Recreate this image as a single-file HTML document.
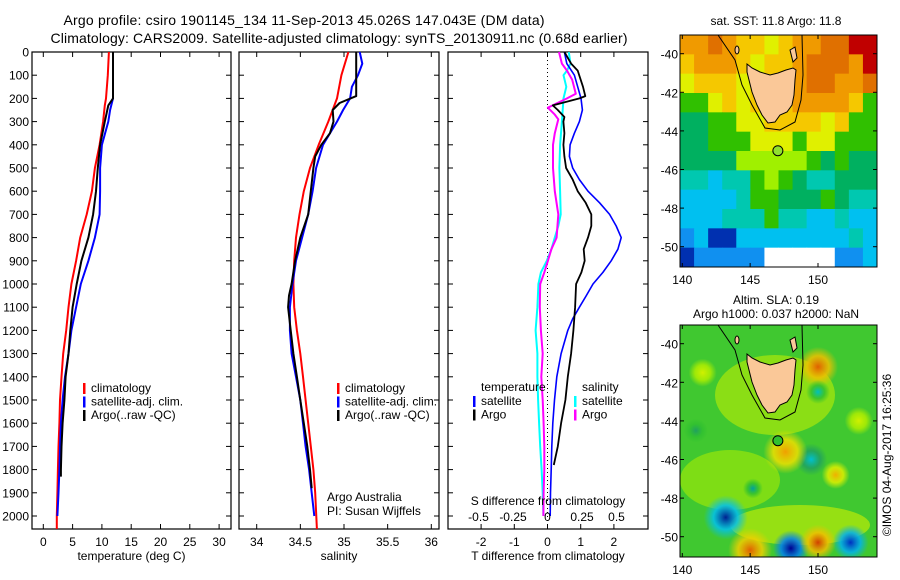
<!DOCTYPE html>
<html><head><meta charset="utf-8"><style>
body{margin:0;background:#fff}
svg{display:block;font-family:"Liberation Sans",sans-serif}
</style></head><body>
<svg id="fig" width="900" height="580" viewBox="0 0 900 580" xmlns="http://www.w3.org/2000/svg">
<rect width="900" height="580" fill="#fff"/>
<text x="304" y="25" font-size="14" text-anchor="middle" textLength="481">Argo profile: csiro 1901145_134 11-Sep-2013 45.026S 147.043E (DM data)</text>
<text x="339" y="43" font-size="14" text-anchor="middle" textLength="577">Climatology: CARS2009. Satellite-adjusted climatology: synTS_20130911.nc (0.68d earlier)</text>
<g id="p1"></g>
<g id="p2"></g>
<g id="p3"></g>
<g id="m1"></g>
<g id="m2"></g>
</svg>
<script>
const depthT = [0,100,200,230,300,400,500,600,700,800,900,1000,1100,1200,1300,1400,1500,1600,1700,1800,1900,2000,2056];
const tempClim = [11.2,11.0,10.7,10.5,10.2,9.6,8.8,8.3,7.4,6.3,5.6,4.8,4.3,3.9,3.4,3.1,2.85,2.75,2.6,2.5,2.4,2.3,2.3];
const depthTS = [0,100,200,250,300,400,500,600,700,800,900,1000,1100,1200,1300,1400,1500,1600,1700,1800,1900,2000];
const tempSat = [11.9,11.9,11.9,11.4,11.1,10.0,9.7,9.7,9.6,8.8,7.7,6.4,5.6,4.8,4.3,3.7,3.3,3.0,2.85,2.75,2.6,2.4];
const depthTA = [0,100,200,230,300,400,500,600,700,800,900,1000,1100,1200,1300,1400,1500,1600,1700,1800,1830];
const tempArgo = [11.9,11.9,11.9,11.1,10.5,9.7,9.3,9.0,8.5,7.7,6.5,5.7,5.0,4.6,4.3,3.8,3.6,3.3,3.1,3.0,3.0];
const depthS = [0,100,200,300,400,500,600,700,800,900,1000,1100,1200,1300,1400,1500,1600,1700,1800,1900,2056];
const salClim = [35.05,34.97,34.92,34.82,34.71,34.61,34.54,34.49,34.45,34.43,34.42,34.43,34.46,34.50,34.53,34.56,34.59,34.62,34.65,34.67,34.69];
const depthSS = [0,50,100,150,200,250,300,400,500,600,700,800,900,1000,1100,1200,1300,1400,1500,1600,1700,1800,1900,2000];
const salSat = [35.18,35.21,35.16,35.09,35.07,34.99,34.92,34.76,34.68,34.64,34.59,34.52,34.45,34.41,34.38,34.38,34.40,34.45,34.50,34.53,34.56,34.60,34.63,34.66];
const depthSA = [0,190,220,250,300,350,400,450,500,600,700,800,900,1000,1050,1100,1200,1300,1400,1500,1600,1700,1800,1880];
const salArgo = [35.14,35.14,34.95,34.87,34.88,34.84,34.74,34.67,34.65,34.62,34.59,34.50,34.44,34.40,34.37,34.36,34.39,34.42,34.46,34.50,34.54,34.58,34.61,34.63];
const depthD = [0,50,100,150,200,250,300,350,400,450,500,550,600,650,700,750,800,850,900,950,1000,1050,1100,1150,1200,1300,1400,1500,1600,1700,1800,1900,2000];
const dTsat = [0.51,0.58,0.81,0.91,1.01,1.05,0.96,0.81,0.68,0.66,0.76,0.96,1.22,1.57,1.87,2.07,2.22,2.12,1.92,1.67,1.37,1.17,0.96,0.76,0.61,0.41,0.28,0.21,0.16,0.13,0.11,0.09,0.08];
const depthDA = [0,50,80,150,190,200,230,250,280,300,350,400,450,500,550,600,650,700,750,800,850,900,950,1000,1100,1200,1300,1400,1500,1600,1700,1780];
const dTargo = [0.51,0.71,0.91,1.07,1.14,0.96,0.16,0.31,0.51,0.48,0.51,0.48,0.51,0.56,0.76,0.91,1.15,1.32,1.32,1.22,1.09,1.12,1.02,0.86,0.83,0.78,0.71,0.61,0.54,0.41,0.31,0.19];
const depthDS = [0,50,80,100,150,200,300,400,500,600,700,750,800,850,900,950,1000,1100,1200,1300,1400,1500,1600,1700,1800,1900,2000];
const dSsat = [0.154,0.167,0.141,0.116,0.136,0.116,0.104,0.091,0.086,0.091,0.096,0.078,0.053,0.028,-0.005,-0.048,-0.066,-0.073,-0.086,-0.073,-0.073,-0.068,-0.061,-0.053,-0.043,-0.035,-0.03];
const depthDSA = [0,50,80,120,180,200,240,270,290,350,400,500,600,700,800,850,900,950,1000,1100,1200,1300,1400,1500,1600,1700,1800,1900,2000];
const dSargo = [0.083,0.104,0.141,0.179,0.205,0.141,0.003,0.053,0.078,0.053,0.04,0.04,0.053,0.078,0.066,0.028,0.003,-0.023,-0.053,-0.056,-0.048,-0.035,-0.045,-0.035,-0.028,-0.023,-0.023,-0.028,-0.03];
const depthTicks = [0,100,200,300,400,500,600,700,800,900,1000,1100,1200,1300,1400,1500,1600,1700,1800,1900,2000];
const tTicks = [0,5,10,15,20,25,30];
const sTicks = [34,34.5,35,35.5,36];
const dTTicks = [-2,-1,0,1,2];
const dSTicks = [-0.5,-0.25,0,0.25,0.5];
const dSTickLabels = ['-0.5','-0.25','0','0.25','0.5'];
const latTicks = [-40,-42,-44,-46,-48,-50];
const lonTicks = [140,145,150];

const NS='http://www.w3.org/2000/svg';
function mk(parent,tag,attrs,text){const e=document.createElementNS(NS,tag);for(const k in attrs)e.setAttribute(k,attrs[k]);if(text!==undefined)e.textContent=text;parent.appendChild(e);return e;}
const Y0=52, Y1=529;
const yD = d => 52 + d*0.232;
const xT = v => 43.3 + v*5.86;
const xS = v => 256.7 + (v-34)*87.3;
const xDT = v => 547.5 + v*33.2;
const xDS = v => 547.5 + v*138;

function frame(g,x0,x1,xTicksArr,xf,labels,title,showY){
  const r=mk(g,'rect',{x:x0,y:Y0,width:x1-x0,height:Y1-Y0,fill:'none',stroke:'#000','stroke-width':1.2});
  
  
  depthTicks.forEach(d=>{
    const y=yD(d);
    mk(g,'line',{x1:x0,x2:x0+5,y1:y,y2:y,stroke:'#000'});
    mk(g,'line',{x1:x1-5,x2:x1,y1:y,y2:y,stroke:'#000'});
    if(showY){const t=mk(g,'text',{x:x0-3,y:y+4.5,'font-size':12,'text-anchor':'end'},String(d));
      
      }
  });
  xTicksArr.forEach((v,i)=>{
    const x=xf(v);
    mk(g,'line',{x1:x,x2:x,y1:Y0,y2:Y0+5,stroke:'#000'});
    mk(g,'line',{x1:x,x2:x,y1:Y1-5,y2:Y1,stroke:'#000'});
    const t=mk(g,'text',{x:x,y:546,'font-size':12,'text-anchor':'middle'},labels?labels[i]:String(v));
    
    
  });
  const tt=mk(g,'text',{x:(x0+x1)/2,y:560,'font-size':12,'text-anchor':'middle'},title);
  
  
}
function series(g,xs,ds,xf,color,w,name){
  const pts=xs.map((v,i)=>xf(v).toFixed(1)+','+yD(ds[i]).toFixed(1)).join(' ');
  const p=mk(g,'polyline',{points:pts,fill:'none',stroke:color,'stroke-width':w,'stroke-linejoin':'round'});
  
  
}
function legend(g,x,y,items){
  items.forEach((it,i)=>{
    mk(g,'rect',{x:x,y:y+i*13.5-9,width:2.5,height:11,fill:it[1]});
    const t=mk(g,'text',{x:x+8,y:y+i*13.5,'font-size':12},it[0]);
    
    
  });
}
const p1=document.getElementById('p1'),p2=document.getElementById('p2'),p3=document.getElementById('p3');
frame(p1,32,231,tTicks,xT,null,'temperature (deg C)',true);
series(p1,tempClim,depthT,xT,'#ff0000',2,'temp-climatology-line');
series(p1,tempSat,depthTS,xT,'#0000ff',2,'temp-satellite-line');
series(p1,tempArgo,depthTA,xT,'#000',2,'temp-argo-line');
legend(p1,83,392,[['climatology','#f00'],['satellite-adj. clim.','#00f'],['Argo(..raw -QC)','#000']]);

frame(p2,239,439,sTicks,xS,null,'salinity',false);
series(p2,salClim,depthS,xS,'#ff0000',2,'sal-climatology-line');
series(p2,salSat,depthSS,xS,'#0000ff',2,'sal-satellite-line');
series(p2,salArgo,depthSA,xS,'#000',2,'sal-argo-line');
legend(p2,337,392,[['climatology','#f00'],['satellite-adj. clim.','#00f'],['Argo(..raw -QC)','#000']]);
mk(p2,'text',{x:327,y:501,'font-size':12},'Argo Australia');
mk(p2,'text',{x:327,y:515,'font-size':12},'PI: Susan Wijffels');

frame(p3,448,648,dTTicks,xDT,null,'T difference from climatology',false);
mk(p3,'line',{x1:xDT(0),x2:xDT(0),y1:Y0,y2:Y1,stroke:'#000','stroke-dasharray':'1,3'});
series(p3,dSsat,depthDS,xDS,'#00ffff',2,'sal-diff-satellite-line');
series(p3,dSargo,depthDSA,xDS,'#ff00ff',2,'sal-diff-argo-line');
series(p3,dTsat,depthD,xDT,'#0000ff',1.6,'temp-diff-satellite-line');
series(p3,dTargo,depthDA,xDT,'#000',1.8,'temp-diff-argo-line');
dSTicks.forEach((v,i)=>{const t=mk(p3,'text',{x:xDS(v),y:521,'font-size':12,'text-anchor':'middle'},dSTickLabels[i]);
  
  });
mk(p3,'text',{x:548,y:505,'font-size':12,'text-anchor':'middle'},'S difference from climatology');
mk(p3,'text',{x:481,y:391,'font-size':12},'temperature');
mk(p3,'text',{x:582,y:391,'font-size':12},'salinity');
legend(p3,473,405,[['satellite','#00f'],['Argo','#000']]);
legend(p3,574,405,[['satellite','#0ff'],['Argo','#f0f']]);

const C={r:'#c00000',o:'#e07000',O:'#f09a00',y:'#f5c800',Y:'#e0f000',l:'#a0f000',g:'#30c000',G:'#00b060',t:'#00c8b0',c:'#00c0f0',b:'#1090f0',B:'#0030b0',w:'#ffffff'};
const sstRows = ['OOoOyyYyOOoorr','yOOOyYyyOoooOr','YyyyYyyyOooOOo','ggYyYyyyOOOOyg','GGggYYyyyyYygg','GGgggYYYgYYggg','GGGGlllllgGgGG','ttcttglgGttGGG','cccctggGGGgGtt','ccctttgttcctcc','bcBBcccccccctc','Bbbbbbwwwwwbbc'];
const lonX = lon => 682.3 + (lon-140)*13.57;
function mapFrame(g,oy,bg){
  const lat = la => oy+53.7 + (-40-la)*19.3;
  mk(g,'rect',{x:680,y:oy+35,width:197,height:232,fill:bg});
  return lat;
}
function tas(g,oy){
  const pts=[[747,64],[752,68],[760,72],[770,75],[778,73],[786,70],[793,68],[796,70],[795,80],[794,95],[792,105],[787,112],[780,115],[775,122],[768,123],[762,115],[757,105],[752,92],[749,80],[747,72]];
  const l=mk(g,'polygon',{points:pts.map(p=>p[0]+','+(p[1]+oy)).join(' '),fill:'#fac898',stroke:'#000','stroke-width':1});
  
  
  mk(g,'polygon',{points:`790,${50+oy} 795,${47+oy} 797,${58+oy} 793,${62+oy}`,fill:'#fac898',stroke:'#000'});
  mk(g,'ellipse',{cx:737,cy:50+oy,rx:2,ry:4,fill:'#fac898',stroke:'#000'});
  mk(g,'polyline',{points:`718,${35+oy} 735,${60+oy} 742,${85+oy} 752,${105+oy} 765,${128+oy} 780,${130+oy} 795,${122+oy} 801,${100+oy} 803,${75+oy} 802,${35+oy}`,fill:'none',stroke:'#000','stroke-width':1});
}
function mapAxes(g,oy,lat){
  mk(g,'rect',{x:680,y:oy+35,width:197,height:232,fill:'none',stroke:'#000'});
  latTicks.forEach(la=>{const y=lat(la);
    mk(g,'line',{x1:680,x2:684,y1:y,y2:y,stroke:'#000'});mk(g,'line',{x1:873,x2:877,y1:y,y2:y,stroke:'#000'});
    const t=mk(g,'text',{x:678,y:y+5,'font-size':12,'text-anchor':'end'},String(la));
    
    });
  lonTicks.forEach(lo=>{const x=lonX(lo);
    mk(g,'line',{x1:x,x2:x,y1:oy+35,y2:oy+39,stroke:'#000'});mk(g,'line',{x1:x,x2:x,y1:oy+263,y2:oy+267,stroke:'#000'});
    const t=mk(g,'text',{x:x,y:oy+284,'font-size':12,'text-anchor':'middle'},String(lo));
    
    });
}
const m1=document.getElementById('m1');
const lat1=mapFrame(m1,0,'#f0c000');
sstRows.forEach((row,r)=>{for(let c=0;c<row.length;c++){
  mk(m1,'rect',{x:680+c*197/14,y:35+r*232/12,width:197/14+0.5,height:232/12+0.5,fill:C[row[c]]});}});
tas(m1,0);
mk(m1,'circle',{cx:lonX(147.043),cy:lat1(-45.026),r:5,fill:'#90e030',stroke:'#000'});
mapAxes(m1,0,lat1);
mk(m1,'text',{x:776,y:25,'font-size':12,'text-anchor':'middle'},'sat. SST: 11.8 Argo: 11.8');

const m2=document.getElementById('m2');
const defs=mk(document.getElementById('fig'),'defs',{});
const blobs=[[150,-41.2,20,['#e06000','#f0c000']],[150,-42.5,12,['#00c0c0','#30c030']],[149.5,-46,16,['#00c0d0','#20a060']],[143.2,-49,22,['#002090','#00c0f0']],[148,-50.6,18,['#000090','#0080f0']],[152.4,-50.3,18,['#0030c0','#00b0f0']],[150,-50.3,18,['#d04000','#f0c000']],[145,-50.7,22,['#e06000','#f0d000']],[147.6,-45.6,22,['#f0a000','#f0e000']],[151.3,-46.8,14,['#f0b000','#e0f000']],[145.2,-47.5,10,['#00a0a0','#30c030']],[141,-44.5,12,['#20a060','#30c030']],[141.5,-41.5,14,['#d0f000','#b0ee00']],[153,-44,14,['#d0f000','#b0ee00']]];
mapFrame(m2,290,'#40c830');
const lat2 = la => 290+53.7 + (-40-la)*19.3;
mk(m2,'ellipse',{cx:775,cy:395,rx:60,ry:40,fill:'#c8f000',opacity:0.55});
mk(m2,'ellipse',{cx:730,cy:480,rx:50,ry:30,fill:'#b0ee00',opacity:0.55});
mk(m2,'ellipse',{cx:800,cy:525,rx:70,ry:20,fill:'#d0f000',opacity:0.6});
blobs.forEach((b,i)=>{
  const gr=mk(defs,'radialGradient',{id:'bl'+i});
  mk(gr,'stop',{offset:'0%','stop-color':b[3][0]});
  mk(gr,'stop',{offset:'55%','stop-color':b[3][1],'stop-opacity':0.85});
  mk(gr,'stop',{offset:'100%','stop-color':b[3][1],'stop-opacity':0});
  mk(m2,'circle',{cx:lonX(b[0]),cy:lat2(b[1]),r:b[2],fill:'url(#bl'+i+')'});
});
mk(m2,'rect',{x:877,y:325,width:23,height:232,fill:'#fff'});
mk(m2,'rect',{x:660,y:557,width:240,height:23,fill:'#fff'});
tas(m2,290);
mk(m2,'circle',{cx:lonX(147.043),cy:lat2(-45.026),r:5,fill:'#30c030',stroke:'#000'});
mapAxes(m2,290,lat2);
mk(m2,'text',{x:776,y:304,'font-size':12,'text-anchor':'middle'},'Altim. SLA: 0.19');
mk(m2,'text',{x:776,y:318,'font-size':12,'text-anchor':'middle'},'Argo h1000: 0.037 h2000: NaN');
const cr=mk(m2,'text',{x:0,y:0,'font-size':12,'text-anchor':'middle',transform:'translate(891,455) rotate(-90)'},'©IMOS 04-Aug-2017 16:25:36');


</script>
</body></html>
